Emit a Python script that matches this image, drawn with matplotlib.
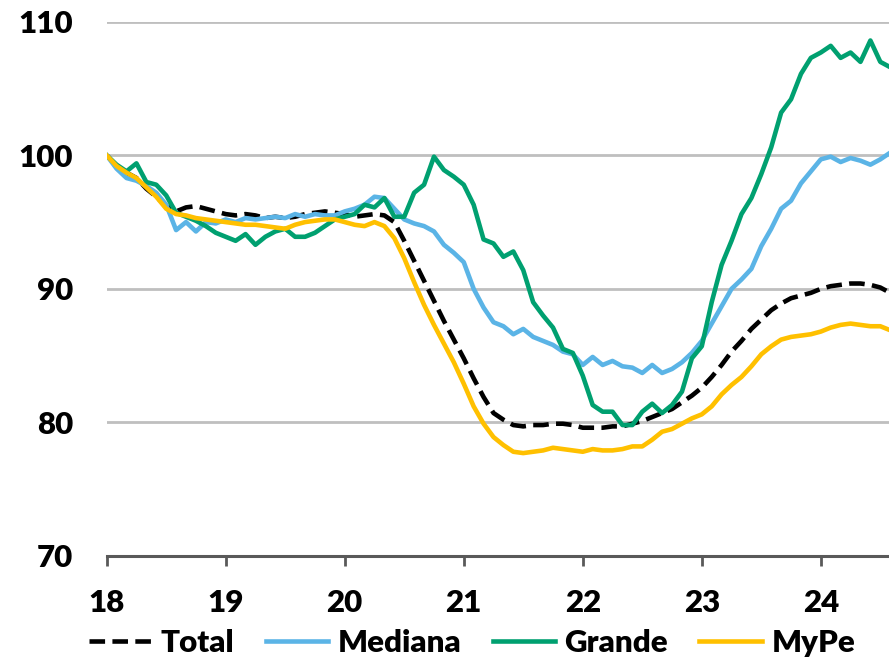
import numpy as np
import matplotlib.pyplot as plt

plt.rcParams['font.family'] = ['Lato', 'DejaVu Sans']
plt.rcParams['font.weight'] = 'heavy'

# índices mensuales desde enero de 2018 (base = 100)
total = [100.0, 99.2, 98.7, 98.3, 97.5, 96.9, 96.2, 95.8, 96.1, 96.2,
         96.0, 95.8, 95.6, 95.5, 95.6, 95.5, 95.3, 95.4, 95.3, 95.4,
         95.6, 95.7, 95.8, 95.7, 95.6, 95.4, 95.5, 95.6, 95.5, 95.0,
         93.6, 92.1, 90.6, 89.1, 87.6, 86.2, 84.8, 83.3, 81.9, 80.7,
         80.2, 79.8, 79.7, 79.8, 79.8, 79.9, 79.9, 79.8, 79.6, 79.6,
         79.6, 79.7, 79.7, 79.9, 80.1, 80.4, 80.7, 81.0, 81.5, 82.0,
         82.6, 83.4, 84.3, 85.3, 86.1, 87.0, 87.7, 88.4, 88.9, 89.3,
         89.5, 89.7, 90.0, 90.2, 90.3, 90.4, 90.4, 90.3, 90.1, 89.7]

mediana = [100.0, 99.0, 98.3, 98.1, 97.7, 97.2, 96.3, 94.4, 95.0, 94.3,
           95.0, 94.9, 95.2, 95.0, 95.3, 95.2, 95.3, 95.4, 95.3, 95.6,
           95.4, 95.6, 95.5, 95.5, 95.8, 96.0, 96.3, 96.9, 96.8, 96.0,
           95.2, 94.9, 94.7, 94.3, 93.3, 92.7, 92.0, 90.0, 88.6, 87.5,
           87.2, 86.6, 87.0, 86.4, 86.1, 85.8, 85.3, 85.1, 84.3, 84.9,
           84.3, 84.6, 84.2, 84.1, 83.7, 84.3, 83.7, 84.0, 84.5, 85.2,
           86.1, 87.4, 88.7, 90.0, 90.7, 91.5, 93.2, 94.5, 96.0, 96.6,
           97.9, 98.8, 99.7, 99.9, 99.5, 99.8, 99.6, 99.3, 99.7, 100.2]

grande = [100.0, 99.3, 98.8, 99.4, 98.0, 97.8, 97.0, 95.7, 95.4, 95.1,
          94.7, 94.2, 93.9, 93.6, 94.1, 93.3, 93.9, 94.3, 94.5, 93.9,
          93.9, 94.2, 94.7, 95.2, 95.4, 95.6, 96.3, 96.1, 96.8, 95.4,
          95.4, 97.2, 97.8, 99.9, 98.9, 98.4, 97.8, 96.3, 93.7, 93.4,
          92.4, 92.8, 91.4, 89.0, 88.0, 87.1, 85.5, 85.2, 83.5, 81.3,
          80.8, 80.8, 79.8, 79.8, 80.8, 81.4, 80.7, 81.3, 82.3, 84.8,
          85.7, 89.0, 91.8, 93.6, 95.6, 96.8, 98.6, 100.6, 103.2, 104.2,
          106.1, 107.3, 107.7, 108.2, 107.3, 107.7, 107.0, 108.6, 107.0, 106.6]

mype = [100.0, 99.2, 98.7, 98.3, 97.6, 96.9, 96.0, 95.6, 95.5, 95.3,
        95.2, 95.1, 95.0, 94.9, 94.8, 94.8, 94.7, 94.6, 94.5, 94.8,
        95.0, 95.1, 95.2, 95.2, 95.0, 94.8, 94.7, 95.0, 94.7, 93.8,
        92.3, 90.5, 88.8, 87.3, 85.9, 84.5, 82.9, 81.2, 79.9, 78.9,
        78.3, 77.8, 77.7, 77.8, 77.9, 78.1, 78.0, 77.9, 77.8, 78.0,
        77.9, 77.9, 78.0, 78.2, 78.2, 78.7, 79.3, 79.5, 79.9, 80.3,
        80.6, 81.2, 82.1, 82.8, 83.4, 84.2, 85.1, 85.7, 86.2, 86.4,
        86.5, 86.6, 86.8, 87.1, 87.3, 87.4, 87.3, 87.2, 87.2, 86.9]

x = 18 + np.arange(len(total)) / 12
anios = [18, 19, 20, 21, 22, 23, 24]

fig = plt.figure(figsize=(8.89, 6.61), dpi=100)
ax = fig.add_axes([0.12, 0.159, 0.88, 0.808])

ax.plot(x, total, color='black', lw=3.3, dashes=(3.4, 1.6), label='Total')
ax.plot(x, mediana, color='#5BB4E6', lw=3.3, label='Mediana')
ax.plot(x, grande, color='#00A070', lw=3.3, label='Grande')
ax.plot(x, mype, color='#FFC000', lw=3.3, label='MyPe')

ax.set_xlim(18, 24.573)
ax.set_ylim(70, 110)
ax.set_yticks([70, 80, 90, 100, 110])
ax.set_xticks(anios)
ax.set_xticklabels([str(a) for a in anios])

ax.grid(axis='y', color='#BFBFBF', lw=2)
ax.set_axisbelow(True)
for s in ['top', 'right', 'left']:
    ax.spines[s].set_visible(False)
ax.spines['bottom'].set_color('#595959')
ax.spines['bottom'].set_linewidth(2.2)
ax.tick_params(axis='y', length=0, pad=24, labelsize=22.5)
ax.tick_params(axis='x', length=7, width=2, color='#595959', pad=17, labelsize=22.5)

fig.legend(loc='center', bbox_to_anchor=(0.531, 0.027), ncol=4,
           frameon=False, fontsize=22.5, handlelength=2.0, handletextpad=0.3,
           columnspacing=1.0, borderpad=0)

fig.savefig('out.png', dpi=100)
